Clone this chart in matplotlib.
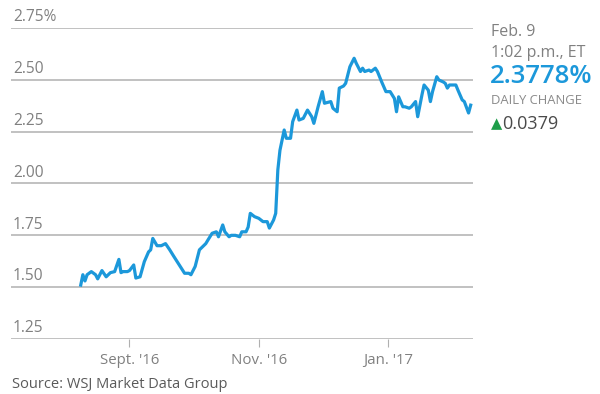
import matplotlib
matplotlib.use("Agg")
import matplotlib.pyplot as plt
import pandas as pd

FONT = ["Open Sans", "DejaVu Sans"]

BLUE = "#1C98DA"
GRID = "#B0B0B0"
LABEL = "#808080"
INK = "#4A4A4A"
GREEN = "#1E9E4A"

# 10-year Treasury yield, percent
dates = [
    "2016-08-09", "2016-08-10", "2016-08-11", "2016-08-12", "2016-08-14",
    "2016-08-16", "2016-08-17", "2016-08-19", "2016-08-21", "2016-08-23",
    "2016-08-25", "2016-08-27", "2016-08-28", "2016-08-29", "2016-08-31",
    "2016-09-01", "2016-09-03", "2016-09-04", "2016-09-06", "2016-09-08",
    "2016-09-10", "2016-09-11", "2016-09-12", "2016-09-14", "2016-09-16",
    "2016-09-18", "2016-09-20", "2016-09-22", "2016-09-24", "2016-09-27",
    "2016-09-29", "2016-09-30", "2016-10-02", "2016-10-04", "2016-10-07",
    "2016-10-08", "2016-10-10", "2016-10-12", "2016-10-13", "2016-10-15",
    "2016-10-16", "2016-10-18", "2016-10-19", "2016-10-21", "2016-10-23",
    "2016-10-24", "2016-10-26", "2016-10-27", "2016-10-28", "2016-10-30",
    "2016-11-01", "2016-11-03", "2016-11-05", "2016-11-06", "2016-11-08",
    "2016-11-09", "2016-11-10", "2016-11-11", "2016-11-13", "2016-11-14",
    "2016-11-16", "2016-11-17", "2016-11-19", "2016-11-20", "2016-11-22",
    "2016-11-24", "2016-11-26", "2016-11-27", "2016-11-29", "2016-12-01",
    "2016-12-02", "2016-12-05", "2016-12-06", "2016-12-08", "2016-12-09",
    "2016-12-11", "2016-12-12", "2016-12-14", "2016-12-16", "2016-12-17",
    "2016-12-19", "2016-12-20", "2016-12-21", "2016-12-23", "2016-12-24",
    "2016-12-26", "2016-12-27", "2016-12-29", "2016-12-31", "2017-01-02",
    "2017-01-04", "2017-01-05", "2017-01-06", "2017-01-08", "2017-01-09",
    "2017-01-11", "2017-01-12", "2017-01-14", "2017-01-15", "2017-01-17",
    "2017-01-18", "2017-01-20", "2017-01-21", "2017-01-22", "2017-01-24",
    "2017-01-25", "2017-01-27", "2017-01-28", "2017-01-29", "2017-01-30",
    "2017-02-02", "2017-02-03", "2017-02-05", "2017-02-06", "2017-02-08",
    "2017-02-09",
]
yields = [
    1.510, 1.560, 1.530, 1.560, 1.575,
    1.560, 1.540, 1.580, 1.550, 1.570,
    1.575, 1.634, 1.570, 1.575, 1.575,
    1.580, 1.607, 1.544, 1.550, 1.623,
    1.670, 1.680, 1.735, 1.700, 1.700,
    1.710, 1.680, 1.647, 1.615, 1.567,
    1.567, 1.560, 1.600, 1.680, 1.710,
    1.727, 1.760, 1.767, 1.743, 1.800,
    1.767, 1.743, 1.750, 1.750, 1.743,
    1.767, 1.767, 1.790, 1.856, 1.840,
    1.832, 1.816, 1.816, 1.785, 1.824,
    1.856, 2.065, 2.160, 2.258, 2.218,
    2.218, 2.298, 2.354, 2.306, 2.314,
    2.354, 2.322, 2.290, 2.370, 2.443,
    2.387, 2.395, 2.363, 2.346, 2.460,
    2.470, 2.483, 2.563, 2.604, 2.580,
    2.540, 2.556, 2.540, 2.547, 2.540,
    2.556, 2.540, 2.490, 2.443, 2.443,
    2.410, 2.346, 2.418, 2.370, 2.370,
    2.363, 2.370, 2.395, 2.322, 2.427,
    2.475, 2.450, 2.395, 2.443, 2.515,
    2.499, 2.490, 2.483, 2.460, 2.475,
    2.475, 2.450, 2.403, 2.395, 2.340,
    2.3778,
]

y_ticks = [1.25, 1.50, 1.75, 2.00, 2.25, 2.50, 2.75]
y_tick_labels = ["1.25", "1.50", "1.75", "2.00", "2.25", "2.50", "2.75%"]
x_ticks = ["2016-09-01", "2016-11-01", "2017-01-01"]
x_tick_labels = ["Sept. '16", "Nov. '16", "Jan. '17"]

last_stamp = ["Feb. 9", "1:02 p.m., ET"]
last_value = "2.3778%"
daily_change = "0.0379"


def main():
    plt.rcParams["font.family"] = FONT
    x = pd.to_datetime(dates)

    fig = plt.figure(figsize=(6.0, 3.94), dpi=100)
    fig.patch.set_facecolor("white")
    ax = fig.add_axes([0.018, 0.1396, 0.77, 0.7894])

    for v in y_ticks:
        ax.axhline(v, color=GRID, linewidth=1.1, zorder=1)
    ax.plot(x, yields, color=BLUE, linewidth=2.3, solid_joinstyle="round", zorder=3)

    ax.set_xlim(pd.Timestamp("2016-07-07"), pd.Timestamp("2017-02-10"))
    ax.set_ylim(1.25, 2.75)
    ax.set_yticks([])
    for spine in ax.spines.values():
        spine.set_visible(False)

    # y labels sit just above their gridlines
    for v, lab in zip(y_ticks, y_tick_labels):
        ax.annotate(lab, xy=(0, v), xycoords=("axes fraction", "data"),
                    xytext=(1.5, 2.0), textcoords="offset points",
                    ha="left", va="bottom", fontsize=11.2, color=LABEL)

    ax.set_xticks(pd.to_datetime(x_ticks))
    ax.set_xticklabels(x_tick_labels)
    ax.tick_params(axis="x", length=6, width=0.8, color=GRID, pad=4,
                   labelsize=10.8, labelcolor=LABEL)

    fig.text(0.02, 0.006, "Source: WSJ Market Data Group", fontsize=10.5,
             color="#5A5A5A", ha="left", va="bottom")

    # latest reading panel
    px = 0.818
    fig.text(px, 0.918, last_stamp[0], fontsize=11.5, color=LABEL, va="center")
    fig.text(px, 0.866, last_stamp[1], fontsize=11.5, color=LABEL, va="center")
    fig.text(px - 0.002, 0.806, last_value, fontsize=18.5, color=BLUE,
             fontweight="semibold", va="center")
    fig.text(px, 0.745, "DAILY CHANGE", fontsize=9.4, color="#8A8A8A", va="center")
    fig.text(px, 0.685, "\u25B2", fontsize=10.5, color=GREEN, va="center",
             family=["DejaVu Sans"])
    fig.text(px + 0.019, 0.685, daily_change, fontsize=13, color=INK, va="center")

    fig.savefig("out.png", dpi=100, facecolor="white")
    plt.close(fig)


if __name__ == "__main__":
    main()
